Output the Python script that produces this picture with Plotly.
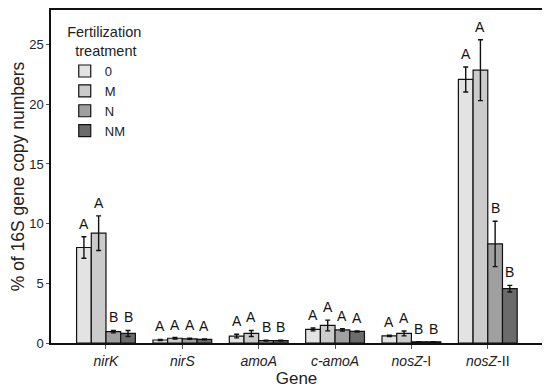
import plotly.graph_objects as go

genes = ["<i>nirK</i>", "<i>nirS</i>", "<i>amoA</i>", "<i>c-amoA</i>", "<i>nosZ</i>-I", "<i>nosZ</i>-II"]
treatments = ["0", "M", "N", "NM"]
colors = ["#e3e3e3", "#cbcbcb", "#a0a0a0", "#6b6b6b"]

val_0 = [8.0, 0.25, 0.58, 1.14, 0.6, 22.08]
val_M = [9.2, 0.4, 0.8, 1.47, 0.8, 22.86]
val_N = [0.95, 0.35, 0.2, 1.1, 0.1, 8.3]
val_NM = [0.8, 0.3, 0.2, 0.97, 0.1, 4.55]

err_0 = [0.9, 0.05, 0.15, 0.12, 0.05, 1.05]
err_M = [1.45, 0.06, 0.25, 0.45, 0.2, 2.55]
err_N = [0.1, 0.05, 0.03, 0.1, 0.0, 1.9]
err_NM = [0.25, 0.04, 0.03, 0.05, 0.0, 0.28]

let_0 = ["A", "A", "A", "A", "A", "A"]
let_M = ["A", "A", "A", "A", "A", "A"]
let_N = ["B", "A", "B", "A", "B", "B"]
let_NM = ["B", "A", "B", "A", "B", "B"]

values = [val_0, val_M, val_N, val_NM]
errors = [err_0, err_M, err_N, err_NM]
letters = [let_0, let_M, let_N, let_NM]

bargap = 0.23
xpos = list(range(len(genes)))
FONT = "Liberation Sans, Arial, sans-serif"

fig = go.Figure()
for t, name in enumerate(treatments):
    fig.add_trace(go.Bar(
        x=xpos, y=values[t], name=name,
        marker=dict(color=colors[t], line=dict(color="#111", width=1.2)),
        error_y=dict(type="data", array=errors[t], visible=True,
                     color="#111", thickness=1.4, width=2.5),
    ))

w = (1 - bargap) / len(treatments)
for t in range(len(treatments)):
    for g in xpos:
        fig.add_annotation(
            x=g + (t - (len(treatments) - 1) / 2) * w,
            y=values[t][g] + errors[t][g],
            text=letters[t][g], showarrow=False, yanchor="bottom", yshift=3,
            font=dict(family=FONT, size=14, color="#111"),
        )

fig.update_layout(
    width=550, height=391,
    margin=dict(l=43, r=16, t=0, b=56),
    barmode="group", bargap=bargap, bargroupgap=0,
    plot_bgcolor="white", paper_bgcolor="white",
    font=dict(family=FONT, color="#222"),
    showlegend=True,
    legend=dict(
        x=0.028, y=0.975, xanchor="left", yanchor="top",
        title=dict(text="Fertilization<br>\u00a0\u00a0treatment", side="top center",
                   font=dict(size=14.5, family=FONT)),
        font=dict(size=13, family=FONT),
        bgcolor="rgba(0,0,0,0)", itemwidth=30, tracegroupgap=0,
    ),
    xaxis=dict(
        tickmode="array", tickvals=xpos, ticktext=genes,
        range=[-0.72, 5.71], showline=True, linecolor="#111", linewidth=1.5,
        mirror=True, ticks="outside", ticklen=4, tickcolor="#555",
        tickfont=dict(size=14, family=FONT, color="#222"),
        title=dict(text="Gene", font=dict(size=17, family=FONT, color="#222"), standoff=5),
        showgrid=False, zeroline=False,
    ),
    yaxis=dict(
        range=[0, 27.9], tickvals=[0, 5, 10, 15, 20, 25],
        showline=True, linecolor="#111", linewidth=1.5, mirror=True,
        ticks="outside", ticklen=3, tickcolor="#555",
        tickfont=dict(size=13, family=FONT, color="#222"),
        title=dict(text="% of 16S gene copy numbers", font=dict(size=17.5, family=FONT, color="#222"), standoff=3),
        showgrid=False, zeroline=False,
    ),
)

fig.write_html("out.html")
